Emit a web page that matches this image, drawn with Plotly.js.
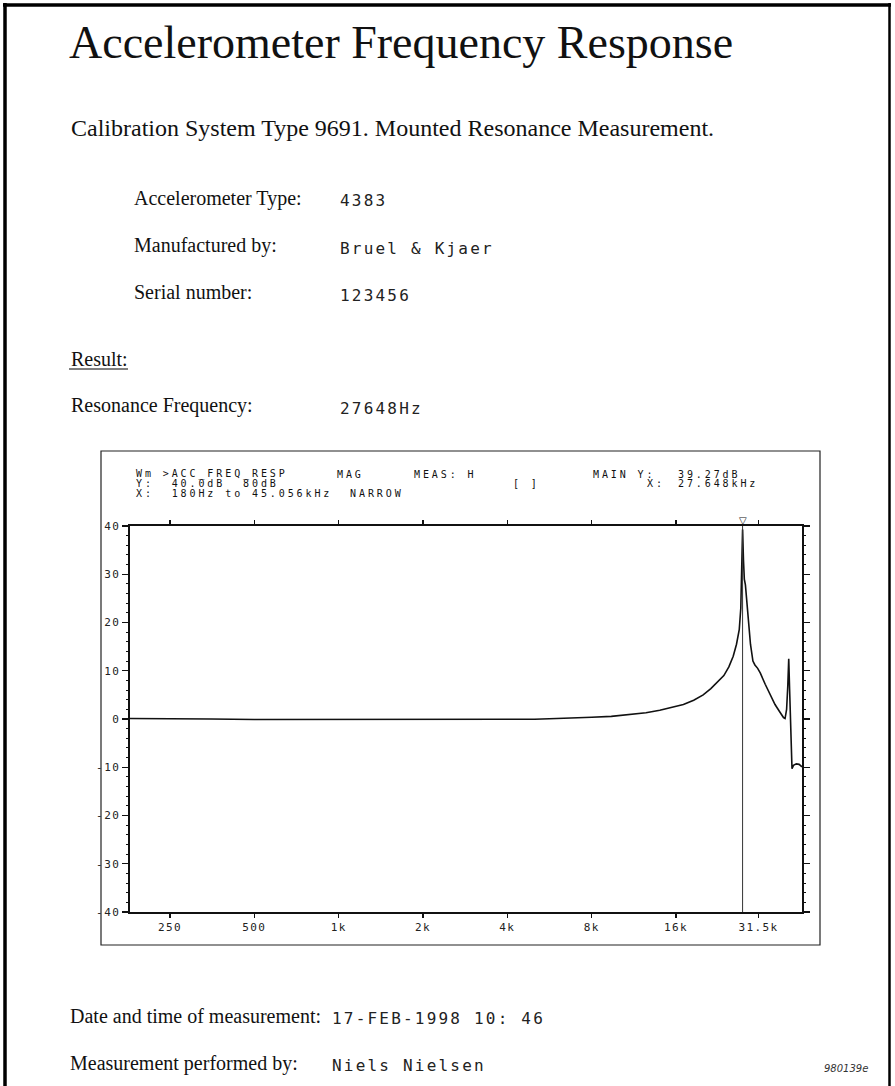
<!DOCTYPE html>
<html>
<head>
<meta charset="utf-8">
<script src="https://cdn.plot.ly/plotly-3.0.1.min.js"></script>
<style>
html, body { margin: 0; padding: 0; background: #ffffff; }
#chart { width: 895px; height: 1086px; }
text[style*="DejaVu Sans Mono"][style*="font-size: 16px"] { letter-spacing: 2.2px; }
text[style*="DejaVu Sans Mono"][style*="font-size: 10px"] { letter-spacing: 2.9px; }
text[style*="DejaVu Sans Mono"][style*="font-size: 11px"] { letter-spacing: 1.4px; }
</style>
</head>
<body>
<div id="chart"></div>
<script>
// ---------------- data ----------------
const freqHz = [180, 250, 350, 500, 700, 1000, 1500, 2000, 3000, 4000, 5000, 6000, 7000, 8000,
  9400, 11000, 12500, 14000, 15500, 17000, 18500, 20000, 21300, 22600, 23700, 24700, 25600,
  26300, 26900, 27250, 27450, 27648, 27850, 28050, 28300, 28600, 29000, 29500, 30100, 30600,
  31300, 32000, 33300, 34700, 36100, 37500, 38700, 39200, 39700, 40100, 40400, 40700, 41100,
  41500, 42000, 43000, 44000, 45056];
const magDb = [0.1, 0.1, 0.0, -0.1, -0.1, -0.15, -0.2, -0.2, -0.2, -0.15, -0.05, 0.1, 0.2, 0.35,
  0.55, 0.9, 1.3, 1.8, 2.4, 3.0, 3.9, 5.0, 6.3, 7.7, 9.0, 10.8, 13.0,
  15.5, 18.5, 23.0, 30.0, 39.27, 33.0, 29.0, 27.8, 24.5, 20.0, 15.5, 12.0, 11.2,
  10.5, 9.5, 7.2, 5.0, 3.0, 1.5, 0.3, 0.1, 2.0, 7.0, 12.5, 6.0, -3.0,
  -10.3, -9.6, -9.3, -9.4, -9.9];
const resonanceHz = 27648;
const markerDbRange = [-40, 40];
const freqRangeHz = [180, 45056];

const xTickVals = [250, 500, 1000, 2000, 4000, 8000, 16000, 31500];
const xTickText = ['250', '500', '1k', '2k', '4k', '8k', '16k', '31.5k'];
const yTickVals = [-40, -30, -20, -10, 0, 10, 20, 30, 40];
const yTickText = ['-40', '-30', '-20', '-10', '0', '10', '20', '30', '40'];

const titleText = 'Accelerometer Frequency Response';
const subtitleText = 'Calibration System Type 9691. Mounted Resonance Measurement.';
const infoLabels = ['Accelerometer Type:', 'Manufactured by:', 'Serial number:'];
const infoValues = ['4383', 'Bruel & Kjaer', '123456'];
const resultLabel = 'Result:';
const resonanceLabel = 'Resonance Frequency:';
const resonanceValue = '27648Hz';
const footerLabels = ['Date and time of measurement:', 'Measurement performed by:'];
const footerValues = ['17-FEB-1998 10: 46', 'Niels Nielsen'];
const docCode = '980139e';
const headerRow1 = ['Wm >ACC_FREQ_RESP', 'MAG', 'MEAS: H', 'MAIN Y:', '39.27dB'];
const headerRow2 = ['Y:  40.0dB  80dB', '[ ]', 'X:', '27.648kHz'];
const headerRow3 = ['X:  180Hz to 45.056kHz  NARROW'];

// ---------------- layout helpers (pixel -> paper) ----------------
const W = 895, H = 1086;
const L = 130, T = 526, PW = 672, PH = 386;
const px = X => (X - L) / PW;
const py = Y => (T + PH - Y) / PH;

const serif = 'Liberation Serif, Times New Roman, serif';
const mono = 'DejaVu Sans Mono';
const ink = '#111111';

function ann(text, X, Y, font, extra) {
  return Object.assign({
    text: text, xref: 'paper', yref: 'paper', x: px(X), y: py(Y),
    xanchor: 'left', yanchor: 'middle', showarrow: false, font: font
  }, extra || {});
}

const serifFont = { family: serif, size: 20, color: ink };
const valueFont = { family: mono, size: 16, color: '#222222' };
const headFont = { family: mono, size: 10, color: '#111111' };

const annotations = [];
annotations.push(ann(subtitleText, 69, 128, { family: serif, size: 24, color: ink }));
const infoY = [198, 245, 292];
infoLabels.forEach((t, i) => annotations.push(ann(t, 132, infoY[i], serifFont)));
infoValues.forEach((t, i) => annotations.push(ann(t, 338, infoY[i] + 3, valueFont)));
annotations.push(ann(resultLabel, 69, 359, serifFont));
annotations.push(ann(resonanceLabel, 69, 405, serifFont));
annotations.push(ann(resonanceValue, 338, 408, valueFont));
const footY = [1016, 1063];
footerLabels.forEach((t, i) => annotations.push(ann(t, 68, footY[i], serifFont)));
footerValues.forEach((t, i) => annotations.push(ann(t, 330, footY[i] + 2, valueFont)));
annotations.push(ann(docCode, 822, 1068, { family: 'DejaVu Sans', size: 10, color: '#333333', style: 'italic' }));

// plotter header
const h1X = [134, 335, 412, 591, 676];
headerRow1.forEach((t, i) => annotations.push(ann(t, h1X[i], 474, headFont)));
const h2X = [134, 511, 645, 676];
headerRow2.forEach((t, i) => annotations.push(ann(t, h2X[i], 483.5, headFont)));
annotations.push(ann(headerRow3[0], 134, 493, headFont));

// resonance marker triangle at top
annotations.push({
  text: '▽', xref: 'x', yref: 'y', x: Math.log10(resonanceHz), y: markerDbRange[1],
  xanchor: 'center', yanchor: 'bottom', showarrow: false, yshift: -2,
  font: { family: 'DejaVu Sans', size: 10, color: ink }
});

function line(x0, y0, x1, y1, w) {
  return { type: 'line', xref: 'paper', yref: 'paper', x0: px(x0), y0: py(y0), x1: px(x1), y1: py(y1),
    line: { color: '#000000', width: w } };
}
const shapes = [
  line(5, 3, 5, H, 3.5),
  line(3, 5, 891, 5, 3.5),
  line(889.5, 3, 889.5, H, 2.5),
  { type: 'rect', xref: 'paper', yref: 'paper', x0: px(101), y0: py(451), x1: px(820), y1: py(945),
    line: { color: '#222222', width: 1.2 } },
  line(69, 369, 128, 369, 1)
];

const traces = [
  { x: freqHz, y: magDb, type: 'scatter', mode: 'lines', line: { color: ink, width: 1.6 }, hoverinfo: 'skip' },
  { x: [resonanceHz, resonanceHz], y: markerDbRange, type: 'scatter', mode: 'lines',
    line: { color: '#333333', width: 1 }, hoverinfo: 'skip' }
];

const tickFont = { family: mono, size: 11, color: '#222222' };
const layout = {
  width: W, height: H,
  margin: { l: L, r: W - L - PW, t: T, b: H - T - PH, pad: 0 },
  paper_bgcolor: '#ffffff', plot_bgcolor: '#ffffff',
  showlegend: false,
  title: { text: titleText, x: 69 / W, xanchor: 'left', xref: 'container',
    y: 1 - 42 / H, yanchor: 'middle', yref: 'container',
    font: { family: serif, size: 46, color: ink } },
  xaxis: {
    type: 'log', range: [Math.log10(freqRangeHz[0]), Math.log10(freqRangeHz[1])],
    tickmode: 'array', tickvals: xTickVals, ticktext: xTickText,
    ticks: 'outside', ticklen: 4, tickwidth: 1.2, tickcolor: ink,
    showline: true, linecolor: ink, linewidth: 1.6, mirror: 'ticks',
    showgrid: false, zeroline: false, tickfont: tickFont, fixedrange: true
  },
  yaxis: {
    range: [-40, 40], tickmode: 'array', tickvals: yTickVals, ticktext: yTickText,
    ticks: 'outside', ticklen: 6, tickwidth: 1.2, tickcolor: ink,
    minor: { dtick: 2, tick0: 0, ticks: 'outside', ticklen: 2.5, tickwidth: 1, tickcolor: ink, showgrid: false },
    showline: true, linecolor: ink, linewidth: 1.6, mirror: 'ticks',
    showgrid: false, zeroline: false, tickfont: tickFont, fixedrange: true
  },
  annotations: annotations,
  shapes: shapes
};

Plotly.newPlot('chart', traces, layout, { staticPlot: true, displayModeBar: false });
</script>
</body>
</html>
